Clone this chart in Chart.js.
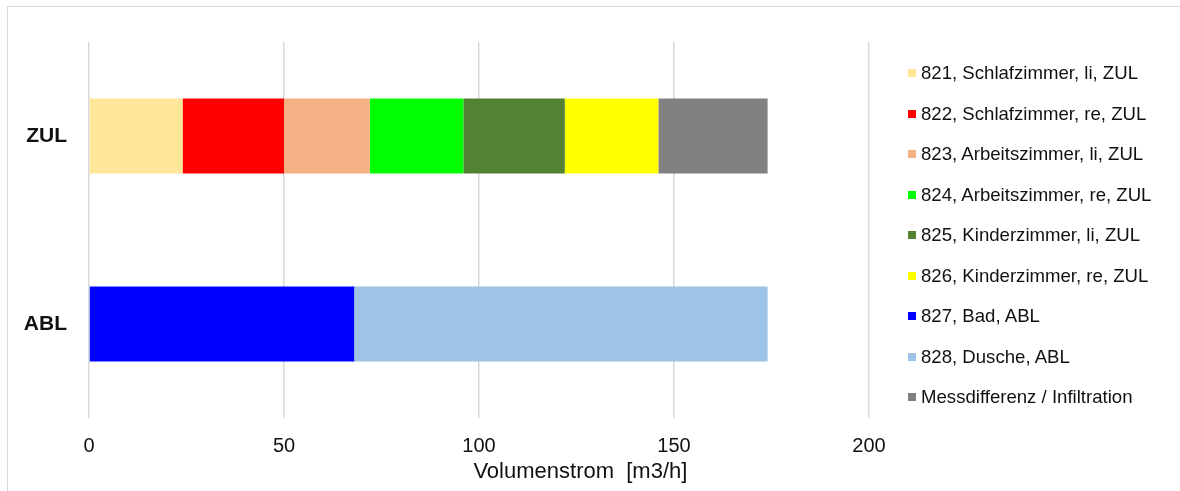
<!DOCTYPE html>
<html>
<head>
<meta charset="utf-8">
<script src="https://cdn.jsdelivr.net/npm/chart.js@4/dist/chart.umd.min.js"></script>
<style>
  html, body { margin: 0; padding: 0; background: #fff; }
  #wrap { position: relative; width: 1180px; height: 491px; }
  #legend { position: absolute; left: 908px; top: 53px; font-family: "Liberation Sans", Arial, sans-serif; font-size: 18.6px; color: #111; }
  #legend .item { height: 40.5px; display: flex; align-items: center; white-space: nowrap; }
  #legend .box { width: 8px; height: 8px; margin-right: 5px; }
</style>
</head>
<body>
<div id="wrap">
  <canvas id="chart" width="1180" height="491"></canvas>
  <div id="legend"></div>
</div>
<script>
// Kategorien und Werte (m3/h)
const categories = ['ZUL', 'ABL'];
const seriesNames = [
  '821, Schlafzimmer, li, ZUL',
  '822, Schlafzimmer, re, ZUL',
  '823, Arbeitszimmer, li, ZUL',
  '824, Arbeitszimmer, re, ZUL',
  '825, Kinderzimmer, li, ZUL',
  '826, Kinderzimmer, re, ZUL',
  '827, Bad, ABL',
  '828, Dusche, ABL',
  'Messdifferenz / Infiltration'
];
const s821 = [24, null];
const s822 = [26, null];
const s823 = [22, null];
const s824 = [24, null];
const s825 = [26, null];
const s826 = [24, null];
const s827 = [null, 68];
const s828 = [null, 106];
const sMess = [28, null];
const xTicks = [0, 50, 100, 150, 200];
const colors = ['#FFE699', '#FF0000', '#F4B183', '#00FF00', '#548235', '#FFFF00', '#0000FF', '#9DC3E6', '#808080'];

const seriesData = [s821, s822, s823, s824, s825, s826, s827, s828, sMess];
const FONT = '"Liberation Sans", Arial, sans-serif';

const datasets = seriesData.map((d, i) => ({
  label: seriesNames[i],
  data: d,
  backgroundColor: colors[i],
  borderWidth: 0,
  barPercentage: 0.4,
  categoryPercentage: 1.0
}));

// Rahmen + Achsentitel
const extras = {
  id: 'extras',
  beforeDraw(chart) {
    const ctx = chart.ctx;
    ctx.save();
    ctx.fillStyle = '#fff';
    ctx.fillRect(0, 0, chart.width, chart.height);
    ctx.strokeStyle = '#d9d9d9';
    ctx.lineWidth = 1;
    ctx.strokeRect(7.5, 6.5, 1200, 520);
    ctx.restore();
  },
  afterDraw(chart) {
    const ctx = chart.ctx;
    const a = chart.chartArea;
    ctx.save();
    ctx.font = '22px ' + FONT;
    ctx.fillStyle = '#111';
    ctx.textAlign = 'center';
    ctx.textBaseline = 'middle';
    ctx.fillText('Volumenstrom  [m3/h]', a.left + (a.right - a.left) * 0.63, 472);
    ctx.restore();
  }
};

const chart = new Chart(document.getElementById('chart'), {
  type: 'bar',
  data: { labels: categories, datasets: datasets },
  options: {
    indexAxis: 'y',
    responsive: false,
    animation: false,
    layout: { padding: { left: 0, right: 311, top: 42, bottom: 0 } },
    plugins: { legend: { display: false }, tooltip: { enabled: false } },
    scales: {
      x: {
        stacked: true,
        min: 0,
        max: 200,
        afterBuildTicks: (scale) => { scale.ticks = xTicks.map(v => ({ value: v })); },
        afterFit: (scale) => { scale.height = 73; },
        grid: { color: '#d9d9d9', drawTicks: false, lineWidth: 1.5 },
        border: { display: false },
        ticks: { padding: 16, color: '#111', font: { family: FONT, size: 20 } }
      },
      y: {
        stacked: true,
        afterFit: (scale) => { scale.width = 89; },
        grid: { display: false, drawTicks: false },
        border: { display: false },
        ticks: { padding: 22, color: '#111', font: { family: FONT, size: 21, weight: 'bold' } }
      }
    }
  },
  plugins: [extras]
});

// Legende rechts
const legend = document.getElementById('legend');
datasets.forEach(ds => {
  const item = document.createElement('div');
  item.className = 'item';
  const box = document.createElement('span');
  box.className = 'box';
  box.style.background = ds.backgroundColor;
  const txt = document.createElement('span');
  txt.textContent = ds.label;
  item.appendChild(box);
  item.appendChild(txt);
  legend.appendChild(item);
});
</script>
</body>
</html>
